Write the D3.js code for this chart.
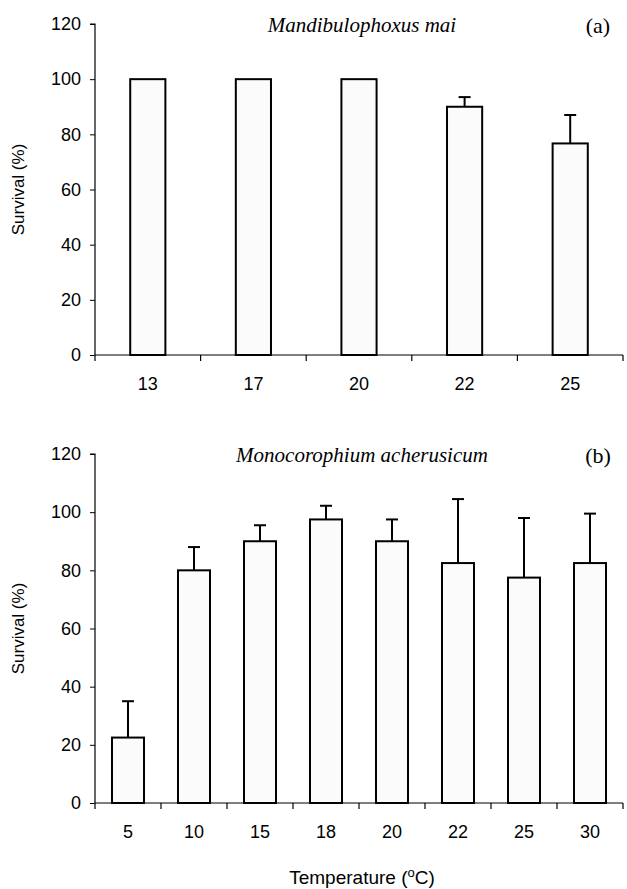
<!DOCTYPE html>
<html><head><meta charset="utf-8">
<script src="https://cdn.jsdelivr.net/npm/d3@7"></script>
<style>body{margin:0;background:#fff}svg{display:block}</style>
</head><body>
<svg id="c" width="627" height="889"></svg>
<script>
const catsA = ["13","17","20","22","25"];
const valsA = [100,100,100,90,76.7];
const errA  = [0,0,0,3.5,10.3];
const catsB = ["5","10","15","18","20","22","25","30"];
const valsB = [22.5,80,90,97.5,90,82.5,77.5,82.5];
const errB  = [12.5,8,5.5,4.7,7.5,22,20.5,17];
const yTicks = [0,20,40,60,80,100,120];
const titleA = "Mandibulophoxus mai", titleB = "Monocorophium acherusicum";

const svg = d3.select("#c");
const sans = "'Liberation Sans', Arial, sans-serif";
const serif = "'Liberation Serif', 'Times New Roman', serif";

function panel(cats, vals, errs, top, bottom, pIn, title, tag){
  const x = d3.scaleBand().domain(cats).range([95,623]).paddingInner(pIn).paddingOuter(pIn/2);
  const y = d3.scaleLinear().domain([0,120]).range([bottom,top]);
  const g = svg.append("g");
  const ya = g.append("g").attr("transform","translate(95,0)")
    .call(d3.axisLeft(y).tickValues(yTicks).tickSize(5).tickPadding(9));
  ya.select(".domain").attr("d",`M-5,${y(120)}H0V${y(0)}`).attr("stroke","#000").attr("stroke-width",1.2);
  ya.selectAll("line").attr("stroke","#000");
  ya.selectAll("text").attr("font-family",sans).attr("font-size",18).attr("fill","#000");
  const xa = g.append("g").attr("transform",`translate(0,${bottom})`)
    .call(d3.axisBottom(x).tickSize(0).tickPadding(22));
  xa.select(".domain").attr("d",`M95,0H623`).attr("stroke","#000").attr("stroke-width",1.2);
  xa.selectAll("text").attr("font-family",sans).attr("font-size",18).attr("fill","#000");
  const bounds = d3.range(cats.length+1).map(i=>95 + i*x.step());
  g.append("g").selectAll("line").data(bounds).join("line")
    .attr("x1",d=>d).attr("x2",d=>d).attr("y1",bottom).attr("y2",bottom+6)
    .attr("stroke","#000").attr("stroke-width",1.2);
  const data = cats.map((c,i)=>({c,v:vals[i],e:errs[i]}));
  const eb = g.append("g").selectAll("g").data(data.filter(d=>d.e>0)).join("g");
  eb.append("line").attr("x1",d=>x(d.c)+x.bandwidth()/2).attr("x2",d=>x(d.c)+x.bandwidth()/2)
    .attr("y1",d=>y(d.v)).attr("y2",d=>y(d.v+d.e)).attr("stroke","#000").attr("stroke-width",2);
  eb.append("line").attr("x1",d=>x(d.c)+x.bandwidth()/2-6).attr("x2",d=>x(d.c)+x.bandwidth()/2+6)
    .attr("y1",d=>y(d.v+d.e)).attr("y2",d=>y(d.v+d.e)).attr("stroke","#000").attr("stroke-width",2);
  g.append("g").selectAll("rect").data(data).join("rect")
    .attr("x",d=>x(d.c)).attr("width",x.bandwidth())
    .attr("y",d=>y(d.v)).attr("height",d=>y(0)-y(d.v))
    .attr("fill","#fbfbfb").attr("stroke","#000").attr("stroke-width",2);
  g.append("text").attr("x",362).attr("y",top+8).attr("text-anchor","middle")
    .attr("font-family",serif).attr("font-style","italic").attr("font-size",21).text(title);
  g.append("text").attr("x",598).attr("y",top+9).attr("text-anchor","middle")
    .attr("font-family",serif).attr("font-size",22).text(tag);
  g.append("text").attr("transform",`translate(24,${(top+bottom)/2}) rotate(-90)`)
    .attr("text-anchor","middle").attr("font-family",sans).attr("font-size",17).text("Survival (%)");
  return {x,y};
}
panel(catsA, valsA, errA, 24, 355, 0.667, titleA, "(a)");
panel(catsB, valsB, errB, 454, 803, 0.515, titleB, "(b)");
svg.append("text").attr("x",362).attr("y",884).attr("text-anchor","middle")
  .attr("font-family",sans).attr("font-size",19)
  .html('Temperature (<tspan dy="-7" font-size="13">o</tspan><tspan dy="7">C)</tspan>');
</script>
</body></html>
